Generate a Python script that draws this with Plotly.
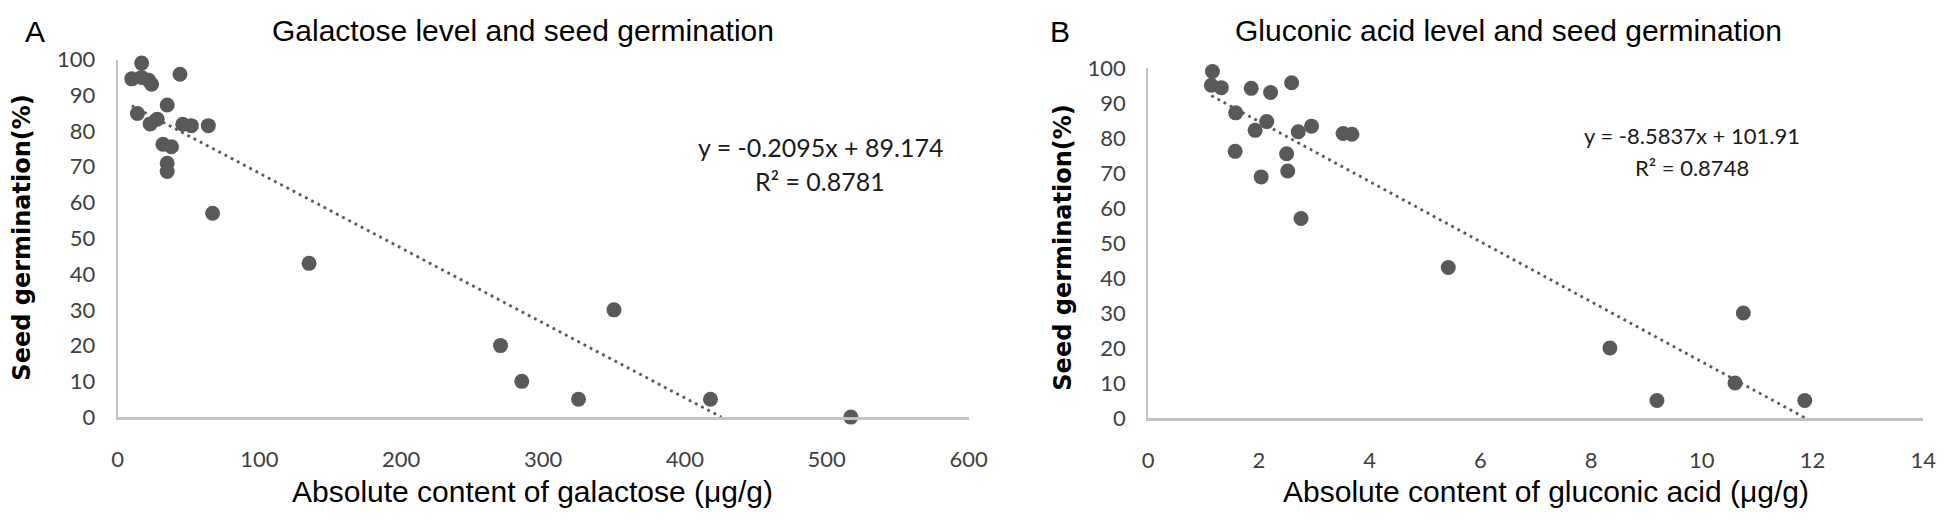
import plotly.graph_objects as go

W, H = 1960, 524

# ---------------- data ----------------
galactose_x = [17, 10, 17, 22, 24, 44, 35, 14, 23, 28, 46, 52, 64, 32, 38, 35, 35, 67,
               135, 350, 270, 285, 325, 418, 517]
germination_a = [99, 94.6, 95, 94.2, 93.1, 95.9, 87.3, 84.9, 82, 83.3, 81.9, 81.5, 81.5, 76.3, 75.6, 71, 68.7, 57,
                 43, 30, 20, 10, 5, 5, 0]

gluconic_x = [1.16, 1.14, 1.32, 1.86, 2.21, 2.59, 1.58, 2.14, 1.93, 2.95, 2.71, 3.52, 3.68,
              1.57, 2.50, 2.52, 2.04, 2.76, 5.42, 10.75, 8.34, 10.6, 9.19, 11.86]
germination_b = [99, 95.1, 94.4, 94.2, 93.0, 95.8, 87.2, 84.7, 82.2, 83.4, 81.8, 81.3, 81.1,
                  76.2, 75.5, 70.6, 68.9, 57.0, 43, 30, 20, 10, 5, 5]

# trendline coefficients as printed on the chart
slope_a, intercept_a, r2_a = -0.2095, 89.174, 0.8781
slope_b, intercept_b, r2_b = -8.5837, 101.91, 0.8748

y_ticks = [0, 10, 20, 30, 40, 50, 60, 70, 80, 90, 100]
x_ticks_a = [0, 100, 200, 300, 400, 500, 600]
x_ticks_b = [0, 2, 4, 6, 8, 10, 12, 14]

titles = ["Galactose level and seed germination", "Gluconic acid level and seed germination"]
x_titles = ["Absolute content of galactose (μg/g)", "Absolute content of gluconic acid (μg/g)"]
y_title = "Seed germination(%)"

# ---------------- helpers ----------------
def px(x):
    return x / W

def py(y):
    return 1 - y / H

def trend(xs, m, b):
    x0 = min(xs)
    x1 = min(max(xs), -b / m)
    return [x0, x1], [m * x0 + b, m * x1 + b]

MARK = "#595959"
AXIS = "#c3c3c3"
TICKFONT = dict(family="Lato, Open Sans, sans-serif", size=22, color="#404040")

fig = go.Figure()

for xs, ys, m, b, xa, ya in [
    (galactose_x, germination_a, slope_a, intercept_a, "x", "y"),
    (gluconic_x, germination_b, slope_b, intercept_b, "x2", "y2"),
]:
    tx, ty = trend(xs, m, b)
    fig.add_trace(go.Scatter(x=tx, y=ty, mode="lines", xaxis=xa, yaxis=ya,
                             line=dict(color=MARK, width=2.8, dash="2.8px,4.2px"),
                             showlegend=False, hoverinfo="skip"))
    fig.add_trace(go.Scatter(x=xs, y=ys, mode="markers", xaxis=xa, yaxis=ya,
                             marker=dict(color=MARK, size=15, line=dict(width=0)),
                             cliponaxis=False, showlegend=False))

def xaxis(dom, rng, ticks, anchor):
    return dict(domain=dom, range=rng, tickvals=ticks, ticktext=[str(t) for t in ticks],
                showgrid=False, zeroline=False, showline=True, linecolor=AXIS, linewidth=2.5,
                ticks="", tickfont=TICKFONT, anchor=anchor, ticklabelstandoff=21, fixedrange=True)

def yaxis(dom, anchor):
    return dict(domain=dom, range=[0, 100], tickvals=y_ticks, ticktext=[str(t) for t in y_ticks],
                showgrid=False, zeroline=False, showline=True, linecolor=AXIS, linewidth=2,
                ticks="", tickfont=TICKFONT, anchor=anchor, ticklabelstandoff=16, fixedrange=True)

fig.update_layout(
    width=W, height=H, autosize=False,
    margin=dict(l=0, r=0, t=0, b=0),
    paper_bgcolor="white", plot_bgcolor="white",
    xaxis=xaxis([px(113), px(975)], [0, 600], x_ticks_a, "y"),
    yaxis=yaxis([py(425), py(48)], "x"),
    xaxis2=xaxis([px(1157), px(1942)], [0, 14], x_ticks_b, "y2"),
    yaxis2=yaxis([py(426), py(57)], "x2"),
)

ann = []
def txt(x, y, s, size, family="Liberation Sans, Arial, sans-serif", color="#000000", angle=0, bold=False):
    ann.append(dict(xref="paper", yref="paper", x=px(x), y=py(y), text=("<b>%s</b>" % s) if bold else s,
                    showarrow=False, xanchor="center", yanchor="middle", textangle=angle,
                    font=dict(family=family, size=size, color=color)))

txt(29, 18, "A", 30)
txt(1068, 18, "B", 30)
txt(524, 17, titles[0], 30)
txt(1522, 17, titles[1], 30)
txt(533, 503, x_titles[0], 30)
txt(1560, 503, x_titles[1], 30)
txt(16, 236, y_title, 24, family="DejaVu Sans, Verdana, sans-serif", angle=-90, bold=True)
txt(1071, 246, y_title, 24, family="DejaVu Sans, Verdana, sans-serif", angle=-90, bold=True)

EQF = "Lato, Open Sans, sans-serif"
txt(825, 140, "y = %.4fx + %.3f" % (slope_a, intercept_a), 25, family=EQF, color="#1a1a1a")
txt(825, 176, "R² = %.4f" % r2_a, 25, family=EQF, color="#1a1a1a")
txt(1708, 128, "y = %.4fx + %.2f" % (slope_b, intercept_b), 22, family=EQF, color="#1a1a1a")
txt(1708, 162, "R² = %.4f" % r2_b, 22, family=EQF, color="#1a1a1a")

fig.update_layout(annotations=ann)
fig.write_html("out.html", config={"displayModeBar": False},
               post_script="document.body.style.margin='0px';")
